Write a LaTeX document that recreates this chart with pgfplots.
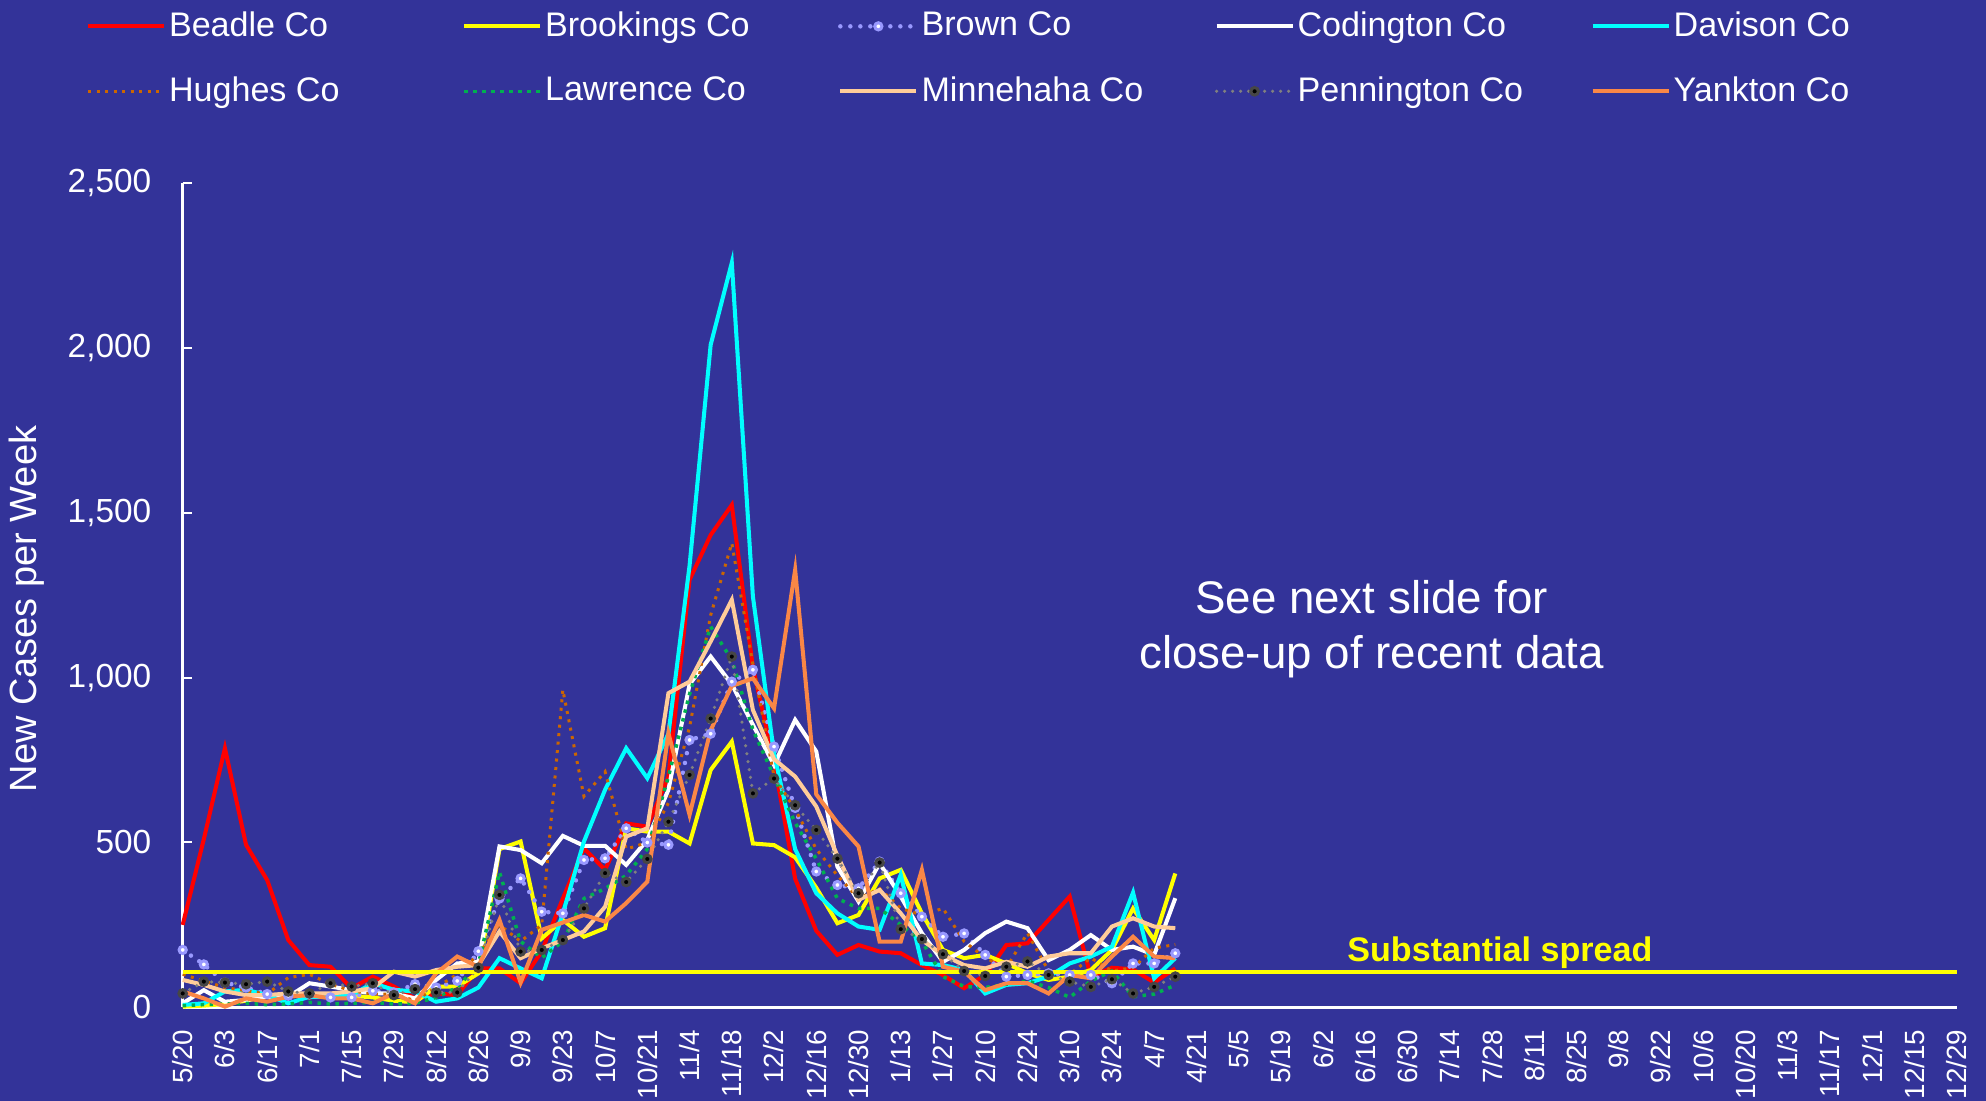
\documentclass[border=0pt]{standalone}
\usepackage{fontspec}
\setmainfont{Liberation Sans}
\usepackage{pgfplots}
\usepackage{pgfplotstable}
\pgfplotsset{compat=1.18}
\definecolor{bg}{RGB}{51,51,153}
\definecolor{cbeadle}{RGB}{255,0,0}
\definecolor{cbrook}{RGB}{255,255,0}
\definecolor{cbrown}{RGB}{153,153,255}
\definecolor{ccod}{RGB}{255,255,255}
\definecolor{cdav}{RGB}{0,255,255}
\definecolor{chug}{RGB}{204,102,0}
\definecolor{claw}{RGB}{0,176,80}
\definecolor{cminn}{RGB}{255,204,153}
\definecolor{cpenn}{RGB}{128,128,128}
\definecolor{cpennmk}{RGB}{70,70,70}
\definecolor{cyank}{RGB}{250,135,70}

\pgfplotstableread{
w beadle brookings brown codington davison hughes lawrence minnehaha pennington yankton
0 250 2 174 12 7 100 5 83 42 48
1 510 5 130 52 12 80 8 68 78 27
2 786 10 75 17 48 60 10 48 75 2
3 493 20 60 22 53 50 12 37 70 27
4 386 35 40 32 37 40 8 37 78 17
5 204 40 35 32 12 90 10 42 48 32
6 128 30 40 73 32 100 15 42 42 37
7 123 40 30 63 32 70 10 42 73 27
8 58 35 30 52 37 50 12 48 63 27
9 93 30 50 42 73 40 15 58 73 12
10 63 20 45 42 53 40 10 108 37 42
11 27 15 70 27 48 20 12 93 55 12
12 42 63 60 83 17 60 30 113 45 103
13 37 63 80 133 27 100 60 123 45 154
14 118 103 170 138 60 160 130 128 120 123
15 118 480 330 488 149 250 410 230 341 265
16 73 503 391 477 118 200 200 149 169 75
17 170 209 290 437 88 250 150 179 174 235
18 330 265 285 520 285 963 200 204 204 257
19 482 214 447 490 503 640 330 230 300 280
20 417 240 452 490 660 715 360 305 407 260
21 558 543 543 432 786 480 400 518 380 316
22 548 533 500 508 695 500 480 543 450 381
23 700 533 493 660 830 620 700 953 563 831
24 1297 497 811 980 1340 850 950 988 705 584
25 1433 720 830 1064 2010 1190 1155 1110 876 841
26 1524 806 988 980 2259 1408 1054 1236 1064 975
27 1030 497 1024 857 1246 1040 842 902 649 998
28 745 492 791 735 770 700 700 753 694 907
29 390 455 605 872 480 600 560 700 613 1327
30 232 363 412 776 346 480 450 609 538 646
31 159 255 371 427 285 400 330 460 451 560
32 189 280 361 321 245 330 300 326 346 488
33 169 391 442 437 235 360 300 356 439 199
34 164 417 346 336 402 300 250 285 237 199
35 128 285 275 225 133 280 200 204 207 417
36 98 174 214 138 128 300 93 159 161 123
37 58 149 224 174 113 200 63 128 110 108
38 98 159 159 225 42 150 60 118 95 52
39 189 133 93 260 68 120 70 138 123 73
40 194 103 98 240 73 225 80 123 139 73
41 265 83 103 143 93 110 60 154 98 42
42 336 93 98 174 133 100 30 164 78 98
43 93 113 98 219 154 150 80 164 62 88
44 120 174 73 174 184 110 110 245 85 154
45 115 300 133 184 348 120 32 270 42 214
46 75 204 133 159 88 180 40 245 62 154
47 118 406 164 331 149 190 67 240 93 149
}\data

\begin{document}
\begin{tikzpicture}
\fill[bg] (0,0) rectangle (19.86,11.01);
\begin{axis}[
  at={(1.827cm,0.937cm)}, anchor=south west,
  scale only axis, width=17.74cm, height=8.24cm,
  xmin=0, xmax=84, ymin=0, ymax=2500,
  clip=false,
  axis x line*=bottom, axis y line*=left,
  axis line style={white, line width=0.025cm, -},
  xtick={0,2,...,84},
  xticklabels={5/20,6/3,6/17,7/1,7/15,7/29,8/12,8/26,9/9,9/23,10/7,10/21,11/4,11/18,12/2,12/16,12/30,1/13,1/27,2/10,2/24,3/10,3/24,4/7,4/21,5/5,5/19,6/2,6/16,6/30,7/14,7/28,8/11,8/25,9/8,9/22,10/6,10/20,11/3,11/17,12/1,12/15,12/29},
  x tick style={draw=none},
  xticklabel style={yshift=-0.1cm, rotate=90, anchor=east, text=white, font=\fontsize{7.9}{9}\selectfont},
  ytick={0,500,...,2500},
  y tick style={white, line width=0.02cm},
  tick align=inside,
  major tick length=0.09cm,
  yticklabel style={text=white, font=\fontsize{9.5}{11}\selectfont, xshift=-0.19cm},
  /pgf/number format/assume math mode=true,
  /pgf/number format/1000 sep={,},
  scaled y ticks=false,
  ylabel={New Cases per Week},
  ylabel style={text=white, font=\fontsize{10.8}{13}\selectfont, at={(axis description cs:-0.0878,0.4834)}, anchor=center},
  legend columns=5,
  legend cell align=left,
  legend image code/.code={\draw[mark repeat=2,mark phase=2,#1] plot coordinates {(0cm,0cm) (0.38cm,0cm) (0.76cm,0cm)};},
  legend style={at={(axis description cs:-0.0545,1.2123)}, anchor=north west, draw=none, fill=none, text=white,
    font=\fontsize{9.7}{11}\selectfont, inner sep=0pt, outer sep=0pt, row sep=0.29cm,
    nodes={inner sep=0.03cm},
    /tikz/every even column/.append style={column sep=0pt}},
]
\addplot[cbeadle, line width=1.15pt] table[x=w,y=beadle]{\data};
\addlegendentry{\makebox[2.9cm][l]{Beadle Co}}
\addplot[cbrook, line width=1.15pt] table[x=w,y=brookings]{\data};
\addlegendentry{\makebox[2.9cm][l]{Brookings Co}}
\addplot[cbrown, line width=0.045cm, line cap=round, dash pattern=on 0pt off 0.1cm,
  mark=*, mark size=0.036cm, mark options={solid, fill=white, draw=cbrown, line width=0.03cm}] table[x=w,y=brown]{\data};
\addlegendentry{\makebox[2.9cm][l]{Brown Co}}
\addplot[ccod, line width=1.15pt] table[x=w,y=codington]{\data};
\addlegendentry{\makebox[2.9cm][l]{Codington Co}}
\addplot[cdav, line width=1.15pt] table[x=w,y=davison]{\data};
\addlegendentry{\makebox[2.9cm][l]{Davison Co}}
\addplot[chug, line width=0.03cm, dash pattern=on 0.03cm off 0.055cm] table[x=w,y=hughes]{\data};
\addlegendentry{\makebox[2.9cm][l]{Hughes Co}}
\addplot[claw, line width=0.035cm, dash pattern=on 0.035cm off 0.055cm] table[x=w,y=lawrence]{\data};
\addlegendentry{\makebox[2.9cm][l]{Lawrence Co}}
\addplot[cminn, line width=1.15pt] table[x=w,y=minnehaha]{\data};
\addlegendentry{\makebox[2.9cm][l]{Minnehaha Co}}
\addplot[cpenn, line width=0.035cm, line cap=round, dash pattern=on 0pt off 0.08cm,
  mark=*, mark size=0.038cm, mark options={solid, fill=black, draw=cpennmk, line width=0.03cm}] table[x=w,y=pennington]{\data};
\addlegendentry{\makebox[2.9cm][l]{Pennington Co}}
\addplot[cyank, line width=1.15pt] table[x=w,y=yankton]{\data};
\addlegendentry{\makebox[2.9cm][l]{Yankton Co}}
\addplot[cbrook, line width=0.045cm, forget plot] coordinates {(0,107) (84,107)};
\node[text=cbrook, font=\bfseries\fontsize{9.7}{11}\selectfont, anchor=base] at (axis cs:62.37,138) {Substantial spread};
\node[text=white, align=center, font=\fontsize{13}{15.6}\selectfont] at (axis cs:56.3,1147) {See next slide for\\close-up of recent data};
\end{axis}
\pgfresetboundingbox
\useasboundingbox (0,0) rectangle (19.86,11.01);
\end{tikzpicture}
\end{document}
